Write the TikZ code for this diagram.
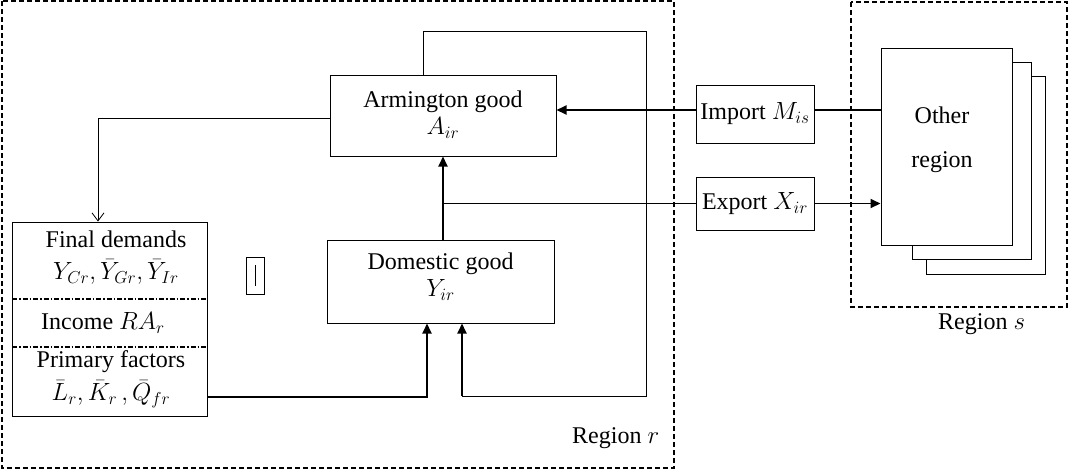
\documentclass[tikz,border=0pt]{standalone}
\usepackage{fontspec}
\setmainfont{Liberation Serif}
\usetikzlibrary{arrows.meta}
\begin{document}
\begin{tikzpicture}[x=1pt,y=-1pt,
  txt/.style={align=center,inner sep=0pt,font=\fontsize{24}{28}\selectfont},
  box/.style={draw,line width=1pt,inner sep=0pt,txt},
  region/.style={draw,line width=1.4pt,dash pattern=on 5pt off 3pt},
  thickline/.style={line width=1.8pt},
  thinline/.style={line width=0.8pt},
  arr/.style={-{Triangle[length=10pt,width=9pt]}},
  dashdot/.style={line width=1.2pt,dash pattern=on 5pt off 2pt on 1.5pt off 2pt}]
\useasboundingbox (0,0) rectangle (1069,472);
% regions
\draw[region] (2,1) rectangle (674,468);
\draw[region] (851,2) rectangle (1067,307);
\node[txt,anchor=west] (rr) at (572,438) {Region $r$};
\node[txt,anchor=west] (rs) at (938,324) {Region $s$};
% boxes
\node[box,minimum width=226pt,minimum height=81pt] (arm) at (443,115.5) {};
\node[txt] (armt) at (443,115) {Armington good\\[-1pt]$A_{ir}$};
\node[box,minimum width=227pt,minimum height=83pt] (dom) at (440.5,281.5) {};
\node[txt] (domt) at (440.5,277) {Domestic good\\[-1pt]$Y_{ir}$};
\node[box,minimum width=118pt,minimum height=58pt] (imp) at (755,114) {Import $M_{is}$};
\node[box,minimum width=118pt,minimum height=53pt] (exp) at (755,203.5) {Export $X_{ir}$};
% other region stack
\draw[line width=1pt,fill=white] (926,76) rectangle (1045,274);
\draw[line width=1pt,fill=white] (912,62) rectangle (1031,259);
\node[box,fill=white,minimum width=131pt,minimum height=197pt] (oth) at (946.5,146.5) {};
\node[txt,font=\fontsize{24}{44}\selectfont] (otht) at (942,140) {Other\\region};
% final demands box
\node[box,minimum width=195pt,minimum height=194pt] (fd) at (109.5,319) {};
\draw[dashdot] (12,299) -- (207,299);
\draw[dashdot] (12,347) -- (207,347);
\node[txt] (fdt) at (116,258) {Final demands\\[4pt]$Y_{Cr},\bar Y_{Gr},\bar Y_{Ir}$};
\node[txt] (inc) at (103,323) {Income $RA_r$};
\node[txt] (pf) at (111,379) {Primary factors\\[5pt]$\bar L_r,\bar K_r\,,\bar Q_{fr}$};
% small box
\node[draw,line width=1pt,minimum width=18pt,minimum height=37pt,inner sep=0pt] (sb) at (255,275.5) {};
\draw[line width=1pt] (255,265) -- (255,286);
% connectors
\coordinate (impy) at (0,110);
\draw[thickline] (imp.east |- impy) -- (oth.west |- impy);
\draw[thickline,arr] (imp.west |- impy) -- (arm.east |- impy);
\coordinate (br) at (443,203.5);
\draw[thickline] (br) -- (exp.west);
\draw[thickline,arr] (exp.east) -- (oth.west |- exp);
\draw[thickline,arr] (dom.north -| br) -- (arm.south -| br);
\coordinate (pfy) at (0,397);
\coordinate (c1) at (427,0);
\draw[thickline,arr] (fd.east |- pfy) -| (dom.south -| c1);
\coordinate (lt) at (423,31);
\coordinate (rt) at (646,31);
\coordinate (lb) at (462,396);
\draw[thinline] (arm.north -| lt) -- (lt) -- (rt) |- (lb);
\draw[thickline,arr] (lb) -- (dom.south -| lb);
\coordinate (ll) at (98,118);
\draw[thinline] (arm.west |- ll) -- (ll);
\draw[thinline,-{Straight Barb[length=8pt,width=12pt]}] (ll) -- (fd.north -| ll);
\end{tikzpicture}
\end{document}
